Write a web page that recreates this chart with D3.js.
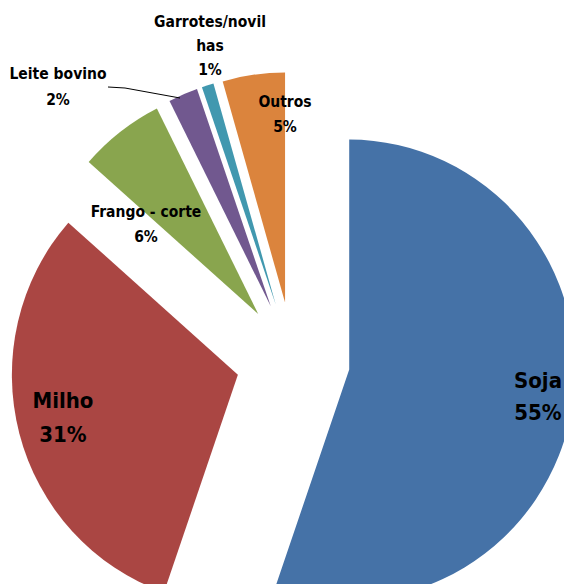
<!DOCTYPE html>
<html>
<head>
<meta charset="utf-8">
<script src="https://cdn.jsdelivr.net/npm/d3@7"></script>
<style>
  html, body { margin: 0; padding: 0; background: #fff; overflow: hidden; }
  svg { display: block; }
  text { font-family: "DejaVu Sans Condensed", "Liberation Sans Narrow", Lato, sans-serif; font-weight: bold; fill: #000; }
</style>
</head>
<body>
<script>
// ---- data ----
const categories = ["Soja", "Milho", "Frango - corte", "Leite bovino", "Garrotes/novilhas", "Outros"];
const values = [55.3, 31.2, 6.1, 2.1, 0.85, 4.45];
const labelLines = [["Soja", "55%"], ["Milho", "31%"], ["Frango - corte", "6%"], ["Leite bovino", "2%"], ["Garrotes/novil", "has", "1%"], ["Outros", "5%"]];
const colors = ["#4572A7", "#AA4643", "#89A54E", "#71588F", "#4198AF", "#DB843D"];

// ---- layout ----
const W = 564, H = 584;
const cx = 293, cy = 360, R = 226, yScale = 1.018, explode = 57;
const labelLayout = [
  { x: 538, y: 380, size: 22, lh: 32 },
  { x: 63, y: 400, size: 22, lh: 34 },
  { x: 146, y: 212, size: 15.5, lh: 25 },
  { x: 58, y: 74, size: 15.5, lh: 26 },
  { x: 210, y: 22, size: 15.5, lh: 24 },
  { x: 285, y: 102, size: 15.5, lh: 25 }
];

const svg = d3.select("body").append("svg").attr("width", W).attr("height", H);

const pie = d3.pie().sort(null).value(d => d).startAngle(0).endAngle(2 * Math.PI);
const arcs = pie(values);
const arc = d3.arc().innerRadius(0).outerRadius(R);

const g = svg.append("g").attr("transform", `translate(${cx},${cy}) scale(1,${yScale})`);
g.selectAll("path").data(arcs).enter().append("path")
  .attr("d", arc)
  .attr("fill", (d, i) => colors[i])
  .attr("transform", d => {
    const a = (d.startAngle + d.endAngle) / 2;
    return `translate(${explode * Math.sin(a)},${-explode * Math.cos(a)})`;
  });

// leader line for Leite bovino
svg.append("polyline")
  .attr("points", "108,87 125,88 180,98")
  .attr("fill", "none").attr("stroke", "#000").attr("stroke-width", 1);

labelLines.forEach((lines, i) => {
  const L = labelLayout[i];
  const t = svg.append("text").attr("text-anchor", "middle").attr("font-size", L.size);
  lines.forEach((ln, j) => {
    t.append("tspan").attr("x", L.x).attr("y", L.y + j * L.lh).attr("dy", "0.35em").text(ln);
  });
});
</script>
</body>
</html>
